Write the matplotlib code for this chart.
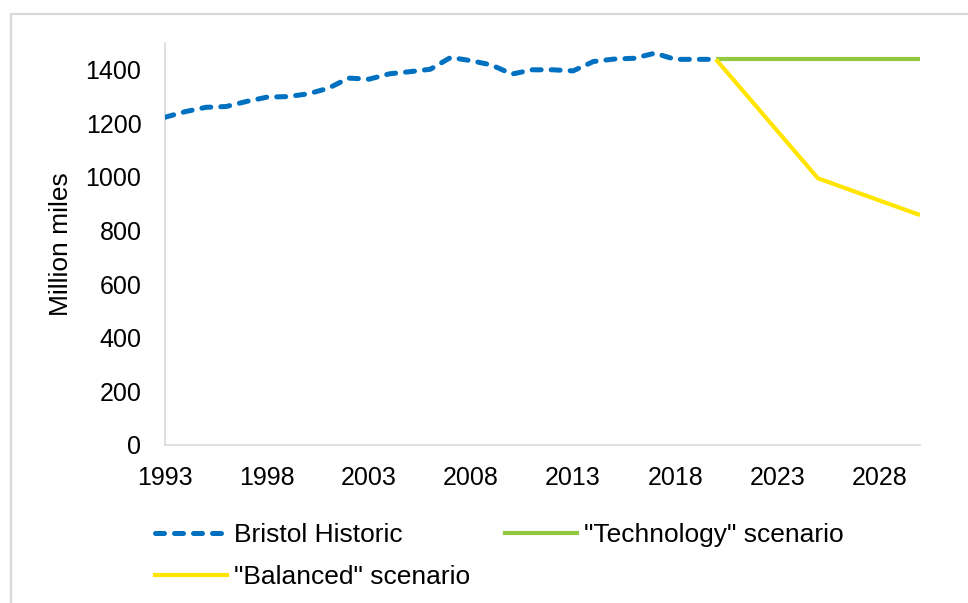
import matplotlib
matplotlib.use("Agg")
import matplotlib.pyplot as plt
from matplotlib.patches import Rectangle
from matplotlib.lines import Line2D

plt.rcParams['font.family'] = ['Liberation Sans', 'DejaVu Sans']

hist_years = list(range(1993, 2021))
hist_values = [1223, 1244, 1260, 1263, 1282, 1298, 1300, 1310, 1331, 1369,
               1365, 1385, 1393, 1402, 1446, 1434, 1418, 1384, 1400, 1400,
               1396, 1431, 1440, 1443, 1462, 1439, 1439, 1439]
scen_years = [2020, 2025, 2030]
tech_values = [1439, 1439, 1439]
bal_values = [1439, 995, 858]
x_ticks = [1993, 1998, 2003, 2008, 2013, 2018, 2023, 2028]
y_ticks = [0, 200, 400, 600, 800, 1000, 1200, 1400]

W, H = 968, 603
fig = plt.figure(figsize=(W / 100, H / 100), dpi=100)
ax = fig.add_axes([165 / W, 1 - 445 / H, (920 - 165) / W, (445 - 43) / H])

# outer gray frame
fig.patches.append(Rectangle((11 / W, -0.1), 1.2, 1 - 14 / H + 0.1,
                             transform=fig.transFigure, fill=False,
                             edgecolor='#D9D9D9', linewidth=1.6))

blue, green, yellow = '#0070C0', '#92C83E', '#FFE500'

ax.plot(hist_years, hist_values, color=blue, lw=3.6, linestyle=(0, (1.8, 2.0)),
        dash_capstyle='round', solid_joinstyle='round', zorder=3)
ax.plot(scen_years, tech_values, color=green, lw=3.0, solid_capstyle='butt', zorder=2)
ax.plot(scen_years, bal_values, color=yellow, lw=3.0, solid_capstyle='butt',
        solid_joinstyle='round', zorder=2)

ax.set_xlim(1993, 2030)
ax.set_ylim(0, 1500)
ax.set_xticks(x_ticks)
ax.set_yticks(y_ticks)
ax.tick_params(axis='both', length=0, labelsize=18, colors='#000000')
ax.tick_params(axis='y', pad=17)
ax.tick_params(axis='x', pad=15)
for s in ['top', 'right']:
    ax.spines[s].set_visible(False)
for s in ['left', 'bottom']:
    ax.spines[s].set_color('#D9D9D9')
    ax.spines[s].set_linewidth(1.2)
ax.set_ylabel('Million miles', fontsize=19)
ax.yaxis.set_label_coords((73 - 165) / 755, 0.5)

handles = [
    Line2D([], [], color=blue, lw=3.6, linestyle=(0, (1.8, 2.0)), dash_capstyle='round'),
    Line2D([], [], color=yellow, lw=3.0),
    Line2D([], [], color=green, lw=3.0),
]
labels = ['Bristol Historic', '"Balanced" scenario', '"Technology" scenario']
fig.legend(handles, labels, ncol=2, loc='upper left',
           bbox_to_anchor=(131 / W, 1 - 499 / H), frameon=False,
           fontsize=19, handlelength=2.73, handletextpad=0.27,
           columnspacing=1.33, labelspacing=0.70)

fig.savefig('out.png', dpi=100, facecolor='white')
